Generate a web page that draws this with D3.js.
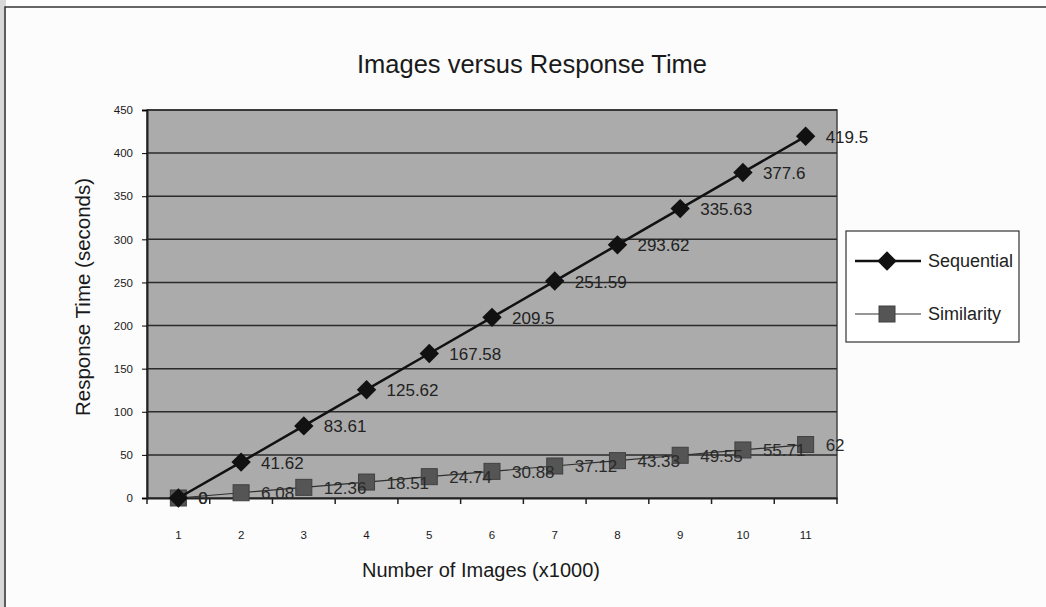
<!DOCTYPE html>
<html><head>
<meta charset="utf-8">
<script src="https://d3js.org/d3.v7.min.js"></script>
<style>
  body { margin: 0; background: #fcfcfc; }
  svg { display: block; font-family: "Liberation Sans", Arial, sans-serif; }
  .grid line { stroke: #2a2a2a; stroke-width: 1.5px; }
  .tick text { fill: #1a1a1a; }
</style>
</head>
<body>
<svg id="chart" width="1046" height="607"></svg>
<script>
// values
const categories = ["1", "2", "3", "4", "5", "6", "7", "8", "9", "10", "11"];
const sequential = [0, 41.62, 83.61, 125.62, 167.58, 209.5, 251.59, 293.62, 335.63, 377.6, 419.5];
const similarity = [0, 6.08, 12.36, 18.51, 24.74, 30.88, 37.12, 43.33, 49.55, 55.71, 62];
const yTicks = [0, 50, 100, 150, 200, 250, 300, 350, 400, 450];
const seriesNames = ["Sequential", "Similarity"];

const svg = d3.select("#chart");
const plot = { left: 147, right: 837, top: 110, bottom: 498 };

// outer chart border (the page crops its right and bottom edge)
svg.append("rect").attr("x", 0).attr("y", 0).attr("width", 6).attr("height", 607).attr("fill", "#d8d8d8");
svg.append("path")
   .attr("d", "M5,607 L5,7 L1046,7")
   .attr("fill", "none").attr("stroke", "#333").attr("stroke-width", 1.5);

const x = d3.scaleBand().domain(categories).range([plot.left, plot.right]);
const y = d3.scaleLinear().domain([0, 450]).range([plot.bottom, plot.top]);
const cx = d => x(d) + x.bandwidth() / 2;

// plot area
svg.append("rect")
   .attr("x", plot.left).attr("y", plot.top)
   .attr("width", plot.right - plot.left).attr("height", plot.bottom - plot.top)
   .attr("fill", "#ababab").attr("stroke", "#444").attr("stroke-width", 1.5);

svg.append("g").attr("class", "grid")
   .selectAll("line").data(yTicks.filter(t => t > 0))
   .join("line")
   .attr("x1", plot.left).attr("x2", plot.right)
   .attr("y1", d => y(d)).attr("y2", d => y(d));

// axes
const yAxis = svg.append("g")
   .attr("transform", `translate(${plot.left},0)`)
   .call(d3.axisLeft(y).tickValues(yTicks).tickSize(5).tickPadding(9));
yAxis.selectAll("text").style("font-size", "11.5px");

const xAxis = svg.append("g")
   .attr("transform", `translate(0,${plot.bottom})`)
   .call(d3.axisBottom(x).tickSize(0).tickPadding(33));
xAxis.selectAll("text").style("font-size", "11.5px");
// category axis ticks sit between categories
xAxis.selectAll("line.sep").data(d3.range(categories.length + 1))
   .join("line").attr("class", "sep")
   .attr("x1", i => plot.left + i * x.step()).attr("x2", i => plot.left + i * x.step())
   .attr("y1", 0).attr("y2", 6)
   .attr("stroke", "#222").attr("stroke-width", 1.5);
svg.selectAll(".domain").attr("stroke", "#222").attr("stroke-width", 2);

// similarity series
const simLine = d3.line().x((d, i) => cx(categories[i])).y(d => y(d));
svg.append("path").datum(similarity)
   .attr("d", simLine).attr("fill", "none").attr("stroke", "#2f2f2f").attr("stroke-width", 1.2);

svg.append("g").selectAll("rect").data(similarity)
   .join("rect")
   .attr("x", (d, i) => cx(categories[i]) - 8).attr("y", d => y(d) - 8)
   .attr("width", 16).attr("height", 16)
   .attr("fill", "#555").attr("stroke", "#404040").attr("stroke-width", 1);

// sequential series
svg.append("path").datum(sequential)
   .attr("d", simLine).attr("fill", "none").attr("stroke", "#111").attr("stroke-width", 2.5);

const diamond = d3.symbol().type(d3.symbolDiamond2).size(240);
svg.append("g").selectAll("path").data(sequential)
   .join("path")
   .attr("d", diamond)
   .attr("transform", (d, i) => `translate(${cx(categories[i])},${y(d)})`)
   .attr("fill", "#111");

// data labels
const labels = svg.append("g").style("font-size", "17px").attr("fill", "#222");
labels.selectAll("text.seq").data(sequential)
   .join("text").attr("class", "seq")
   .attr("x", (d, i) => cx(categories[i]) + 20).attr("y", d => y(d) + 2)
   .attr("dominant-baseline", "middle")
   .text(d => d);
labels.selectAll("text.sim").data(similarity)
   .join("text").attr("class", "sim")
   .attr("x", (d, i) => cx(categories[i]) + 20).attr("y", d => y(d) + 2)
   .attr("dominant-baseline", "middle").attr("fill", "#2a2a2a")
   .text(d => d);

// titles
svg.append("text")
   .attr("x", 532).attr("y", 73).attr("text-anchor", "middle")
   .style("font-size", "25.5px").attr("fill", "#1a1a1a")
   .text("Images versus Response Time");
svg.append("text")
   .attr("x", 481).attr("y", 577).attr("text-anchor", "middle")
   .style("font-size", "20px").attr("fill", "#1a1a1a")
   .text("Number of Images (x1000)");
svg.append("text")
   .attr("transform", "translate(90,297) rotate(-90)").attr("text-anchor", "middle")
   .style("font-size", "20.5px").attr("fill", "#1a1a1a")
   .text("Response Time (seconds)");

// legend
const legend = svg.append("g");
legend.append("rect")
   .attr("x", 846).attr("y", 231).attr("width", 173).attr("height", 111)
   .attr("fill", "#fff").attr("stroke", "#333").attr("stroke-width", 1.2);
const rows = legend.selectAll("g.row").data(seriesNames)
   .join("g").attr("class", "row")
   .attr("transform", (d, i) => `translate(0,${261 + i * 53})`);
rows.append("line")
   .attr("x1", 855).attr("x2", 921).attr("y1", 0).attr("y2", 0)
   .attr("stroke", (d, i) => i === 0 ? "#111" : "#2f2f2f")
   .attr("stroke-width", (d, i) => i === 0 ? 2.5 : 1.2);
rows.filter((d, i) => i === 0).append("path")
   .attr("d", diamond).attr("transform", "translate(887,0)").attr("fill", "#111");
rows.filter((d, i) => i === 1).append("rect")
   .attr("x", 879).attr("y", -8).attr("width", 16).attr("height", 16)
   .attr("fill", "#555").attr("stroke", "#404040");
rows.append("text")
   .attr("x", 928).attr("y", 1).attr("dominant-baseline", "middle")
   .style("font-size", "18px").attr("fill", "#222")
   .text(d => d);
</script>
</body>
</html>
